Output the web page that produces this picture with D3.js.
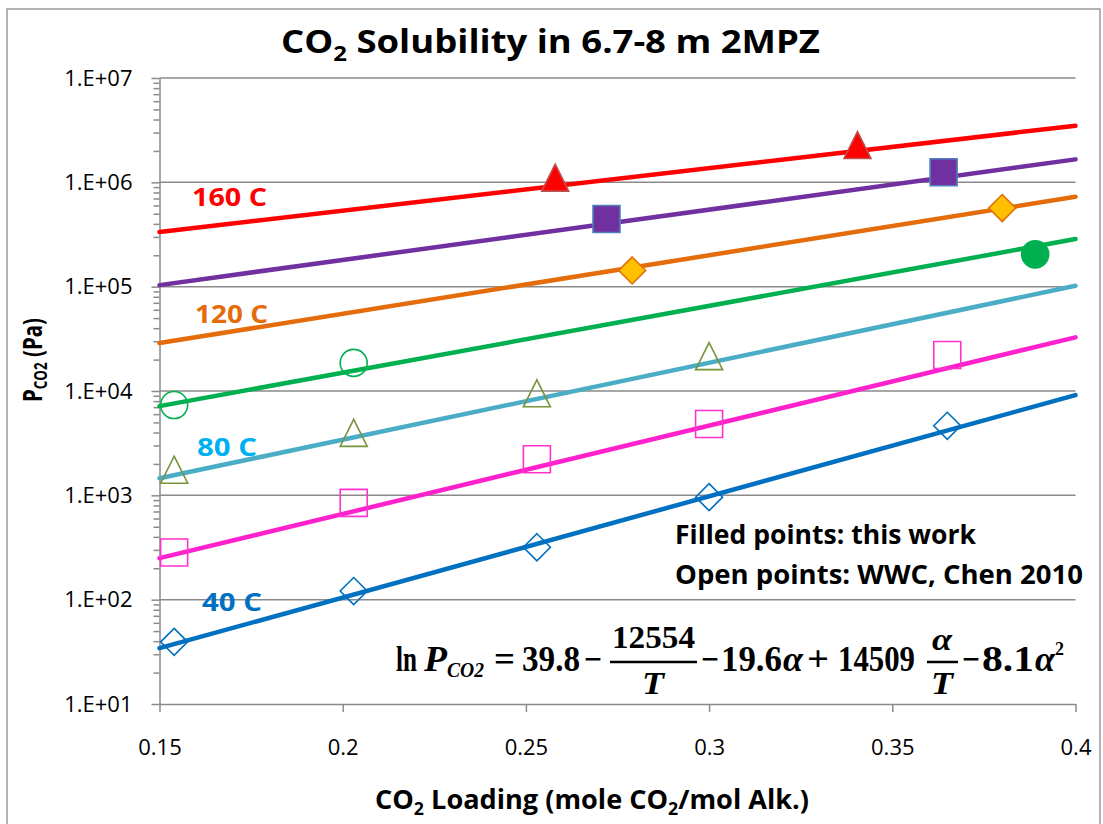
<!DOCTYPE html>
<html>
<head>
<meta charset="utf-8" />
<title>CO2 Solubility in 6.7-8 m 2MPZ</title>
<script src="https://cdn.jsdelivr.net/npm/d3@7"></script>
<style>
  body { margin: 0; background: #fff; }
  text { font-family: "Open Sans", "Noto Sans", sans-serif; }
  .eq text { font-family: "Liberation Serif", "DejaVu Serif", serif; font-weight: bold; font-size: 35px; }
</style>
</head>
<body>
<svg id="chart" width="1103" height="824"></svg>
<script>
// model lines, value at loading 0.15 and at 0.4
var temps = [40, 60, 80, 100, 120, 140, 160];
var lineColors = ['#0070C0', '#FF22CC', '#4BACC6', '#00B050', '#E46C0A', '#7030A0', '#FF0000'];
var lineLoad = [0.15, 0.4];
var fitAt015 = [34.3, 250, 1460, 7160, 28800, 103500, 334000];
var fitAt040 = [9140, 32700, 102000, 286000, 728000, 1660000, 3490000];

// open points (WWC, Chen 2010)
var t40Load = [0.154, 0.203, 0.253, 0.300, 0.365];
var t40P = [39.4, 121, 318, 961, 4640];
var t60Load = [0.154, 0.203, 0.253, 0.300, 0.365];
var t60P = [283, 847, 2220, 4820, 22100];
var t80Load = [0.154, 0.203, 0.253, 0.300];
var t80P = [1760, 3970, 9500, 21600];
var t100Load = [0.154, 0.203];
var t100P = [7330, 18600];

// filled points (this work)
var w100Load = [0.389];
var w100P = [204000];
var w120Load = [0.279, 0.380];
var w120P = [143000, 567000];
var w140Load = [0.272, 0.364];
var w140P = [445000, 1250000];
var w160Load = [0.258, 0.3405];
var w160P = [1110000, 2280000];

var yTicks = [10, 100, 1000, 10000, 100000, 1000000, 10000000];
var xTicks = [0.15, 0.2, 0.25, 0.3, 0.35, 0.4];
var labelTemps = [160, 120, 80, 40];

var svg = d3.select('#chart');
var x = d3.scaleLinear().domain([0.15, 0.4]).range([159.5, 1075.5]);
var y = d3.scaleLog().domain([10, 1e7]).range([704, 78]);

// chart area frame
svg.append('rect').attr('x', 7).attr('y', 9).attr('width', 1093).attr('height', 840)
  .attr('fill', 'none').attr('stroke', '#9a9a9a').attr('stroke-width', 1.5);

// gridlines
svg.append('g').selectAll('line').data(yTicks.slice(1)).enter().append('line')
  .attr('x1', x(0.15)).attr('x2', x(0.4))
  .attr('y1', d => y(d)).attr('y2', d => y(d))
  .attr('stroke', '#8a8a8a').attr('stroke-width', 1.5);

// minor y ticks
var minor = [];
yTicks.slice(0, -1).forEach(function (d) {
  for (var k = 2; k <= 9; k++) minor.push(d * k);
});
var gMinor = svg.append('g').attr('transform', 'translate(' + x(0.15) + ',0)')
  .call(d3.axisLeft(y).tickValues(minor).tickSize(6).tickFormat(''));
gMinor.select('.domain').remove();
gMinor.selectAll('line').attr('stroke', '#8a8a8a').attr('stroke-width', 1.5);

// y axis
var gy = svg.append('g').attr('transform', 'translate(' + x(0.15) + ',0)')
  .call(d3.axisLeft(y).tickValues(yTicks).tickSize(8).tickSizeOuter(0).tickPadding(19)
    .tickFormat(d => '1.E+' + String(Math.round(Math.log10(d))).padStart(2, '0')));
gy.select('.domain').attr('stroke', '#8a8a8a').attr('stroke-width', 1.5);
gy.selectAll('line').attr('stroke', '#8a8a8a').attr('stroke-width', 1.5);
gy.selectAll('text').attr('font-size', 22).attr('fill', '#000')
  .attr('font-family', '"Open Sans", sans-serif');

// x axis
var gx = svg.append('g').attr('transform', 'translate(0,' + y(10) + ')')
  .call(d3.axisBottom(x).tickValues(xTicks).tickSize(8).tickSizeOuter(0).tickPadding(27)
    .tickFormat(d => String(d)));
gx.select('.domain').attr('stroke', '#8a8a8a').attr('stroke-width', 1.5);
gx.selectAll('line').attr('stroke', '#8a8a8a').attr('stroke-width', 1.5);
gx.selectAll('text').attr('font-size', 22).attr('fill', '#000')
  .attr('font-family', '"Open Sans", sans-serif');

// model lines
var line = d3.line().x(d => x(d[0])).y(d => y(d[1]));
temps.forEach(function (t, i) {
  svg.append('path')
    .datum([[lineLoad[0], fitAt015[i]], [lineLoad[1], fitAt040[i]]])
    .attr('d', line).attr('fill', 'none')
    .attr('stroke', lineColors[i]).attr('stroke-width', 4.5).attr('stroke-linecap', 'round');
});

// markers
var h = 13.5;
var shapes = {
  diamond: 'M0,' + (-h) + 'L' + h + ',0L0,' + h + 'L' + (-h) + ',0Z',
  square: 'M' + (-h) + ',' + (-h) + 'H' + h + 'V' + h + 'H' + (-h) + 'Z',
  triangle: 'M0,' + (-h) + 'L' + h + ',' + h + 'L' + (-h) + ',' + h + 'Z',
  circle: d3.symbol().type(d3.symbolCircle).size(Math.PI * h * h)()
};
function drawPoints(loads, ps, shape, fill, stroke) {
  svg.append('g').selectAll('path').data(loads).enter().append('path')
    .attr('transform', (d, i) => 'translate(' + x(d) + ',' + y(ps[i]) + ')')
    .attr('d', shapes[shape])
    .attr('fill', fill).attr('stroke', stroke).attr('stroke-width', 1.6);
}
drawPoints(t40Load, t40P, 'diamond', 'none', '#0070C0');
drawPoints(t60Load, t60P, 'square', 'none', '#FF33CC');
drawPoints(t80Load, t80P, 'triangle', 'none', '#77933C');
drawPoints(t100Load, t100P, 'circle', 'none', '#00B050');
drawPoints(w100Load, w100P, 'circle', '#00B050', '#00B050');
drawPoints(w120Load, w120P, 'diamond', '#FFC000', '#E46C0A');
drawPoints(w140Load, w140P, 'square', '#7030A0', '#4F81BD');
drawPoints(w160Load, w160P, 'triangle', '#FF0000', '#C0504D');

// temperature labels
var tLabelPos = [[192, 206, 75, '#FF0000'], [195, 323, 73, '#E46C0A'], [197, 456, 60, '#00B0F0'], [202, 611, 60, '#0070C0']];
labelTemps.forEach(function (t, i) {
  var p = tLabelPos[i];
  svg.append('text').attr('x', p[0]).attr('y', p[1]).attr('font-size', 25).attr('font-weight', 'bold')
    .attr('fill', p[3]).attr('textLength', p[2]).attr('lengthAdjust', 'spacingAndGlyphs')
    .text(t + ' C');
});

// title
var title = svg.append('text').attr('x', 281).attr('y', 53).attr('font-size', 32).attr('font-weight', 'bold')
  .attr('textLength', 539).attr('lengthAdjust', 'spacingAndGlyphs');
title.append('tspan').text('CO');
title.append('tspan').attr('font-size', 21).attr('dy', 8).text('2');
title.append('tspan').attr('dy', -8).text(' Solubility in 6.7-8 m 2MPZ');

// x axis title
var xt = svg.append('text').attr('x', 375).attr('y', 809).attr('font-size', 26).attr('font-weight', 'bold')
  .attr('textLength', 434).attr('lengthAdjust', 'spacingAndGlyphs');
xt.append('tspan').text('CO');
xt.append('tspan').attr('font-size', 17).attr('dy', 6).text('2');
xt.append('tspan').attr('dy', -6).text(' Loading (mole CO');
xt.append('tspan').attr('font-size', 17).attr('dy', 6).text('2');
xt.append('tspan').attr('dy', -6).text('/mol Alk.)');

// y axis title
var yt = svg.append('text').attr('transform', 'translate(42,402) rotate(-90)')
  .attr('font-size', 26).attr('font-weight', 'bold')
  .attr('textLength', 84).attr('lengthAdjust', 'spacingAndGlyphs');
yt.append('tspan').text('P');
yt.append('tspan').attr('font-size', 17).attr('dy', 5).text('CO2');
yt.append('tspan').attr('dy', -5).text(' (Pa)');

// notes
svg.append('text').attr('x', 675).attr('y', 544).attr('font-size', 27).attr('font-weight', 'bold')
  .attr('textLength', 301).attr('lengthAdjust', 'spacingAndGlyphs').text('Filled points: this work');
svg.append('text').attr('x', 675).attr('y', 584).attr('font-size', 27).attr('font-weight', 'bold')
  .attr('textLength', 408).attr('lengthAdjust', 'spacingAndGlyphs').text('Open points: WWC, Chen 2010');

// equation
var eq = svg.append('g').attr('class', 'eq');
function eqText(s, x0, w, yb, italic, size) {
  var t = eq.append('text').attr('x', x0).attr('y', yb).text(s)
    .attr('textLength', w).attr('lengthAdjust', 'spacingAndGlyphs');
  if (italic) t.attr('font-style', 'italic');
  if (size) t.style('font-size', size + 'px');
  return t;
}
function eqRule(x0, x1) {
  eq.append('line').attr('x1', x0).attr('x2', x1).attr('y1', 662).attr('y2', 662)
    .attr('stroke', '#000').attr('stroke-width', 2.5);
}
eqText('ln', 396, 21, 671);
eqText('P', 424, 23, 671, true);
eqText('CO2', 447, 37, 677, true, 20);
eqText('=', 494, 21, 671);
eqText('39.8', 522, 58, 671);
eqText('\u2212', 584, 18, 671);
eqText('12554', 612, 83, 648, false, 32);
eqRule(610, 697);
eqText('T', 642, 22, 694, true, 32);
eqText('\u2212', 701, 18, 671);
eqText('19.6', 721, 61, 671);
eqText('\u03b1', 783, 20, 671, true);
eqText('+', 807, 22, 671);
eqText('14509', 838, 77, 671);
eqText('\u03b1', 932, 20, 650, true, 32);
eqRule(927, 958);
eqText('T', 931, 22, 694, true, 32);
eqText('\u2212', 962, 18, 671);
eqText('8.1', 982, 52, 671);
eqText('\u03b1', 1035, 20, 671, true);
eqText('2', 1055, 9, 655, false, 18);
</script>
</body>
</html>
